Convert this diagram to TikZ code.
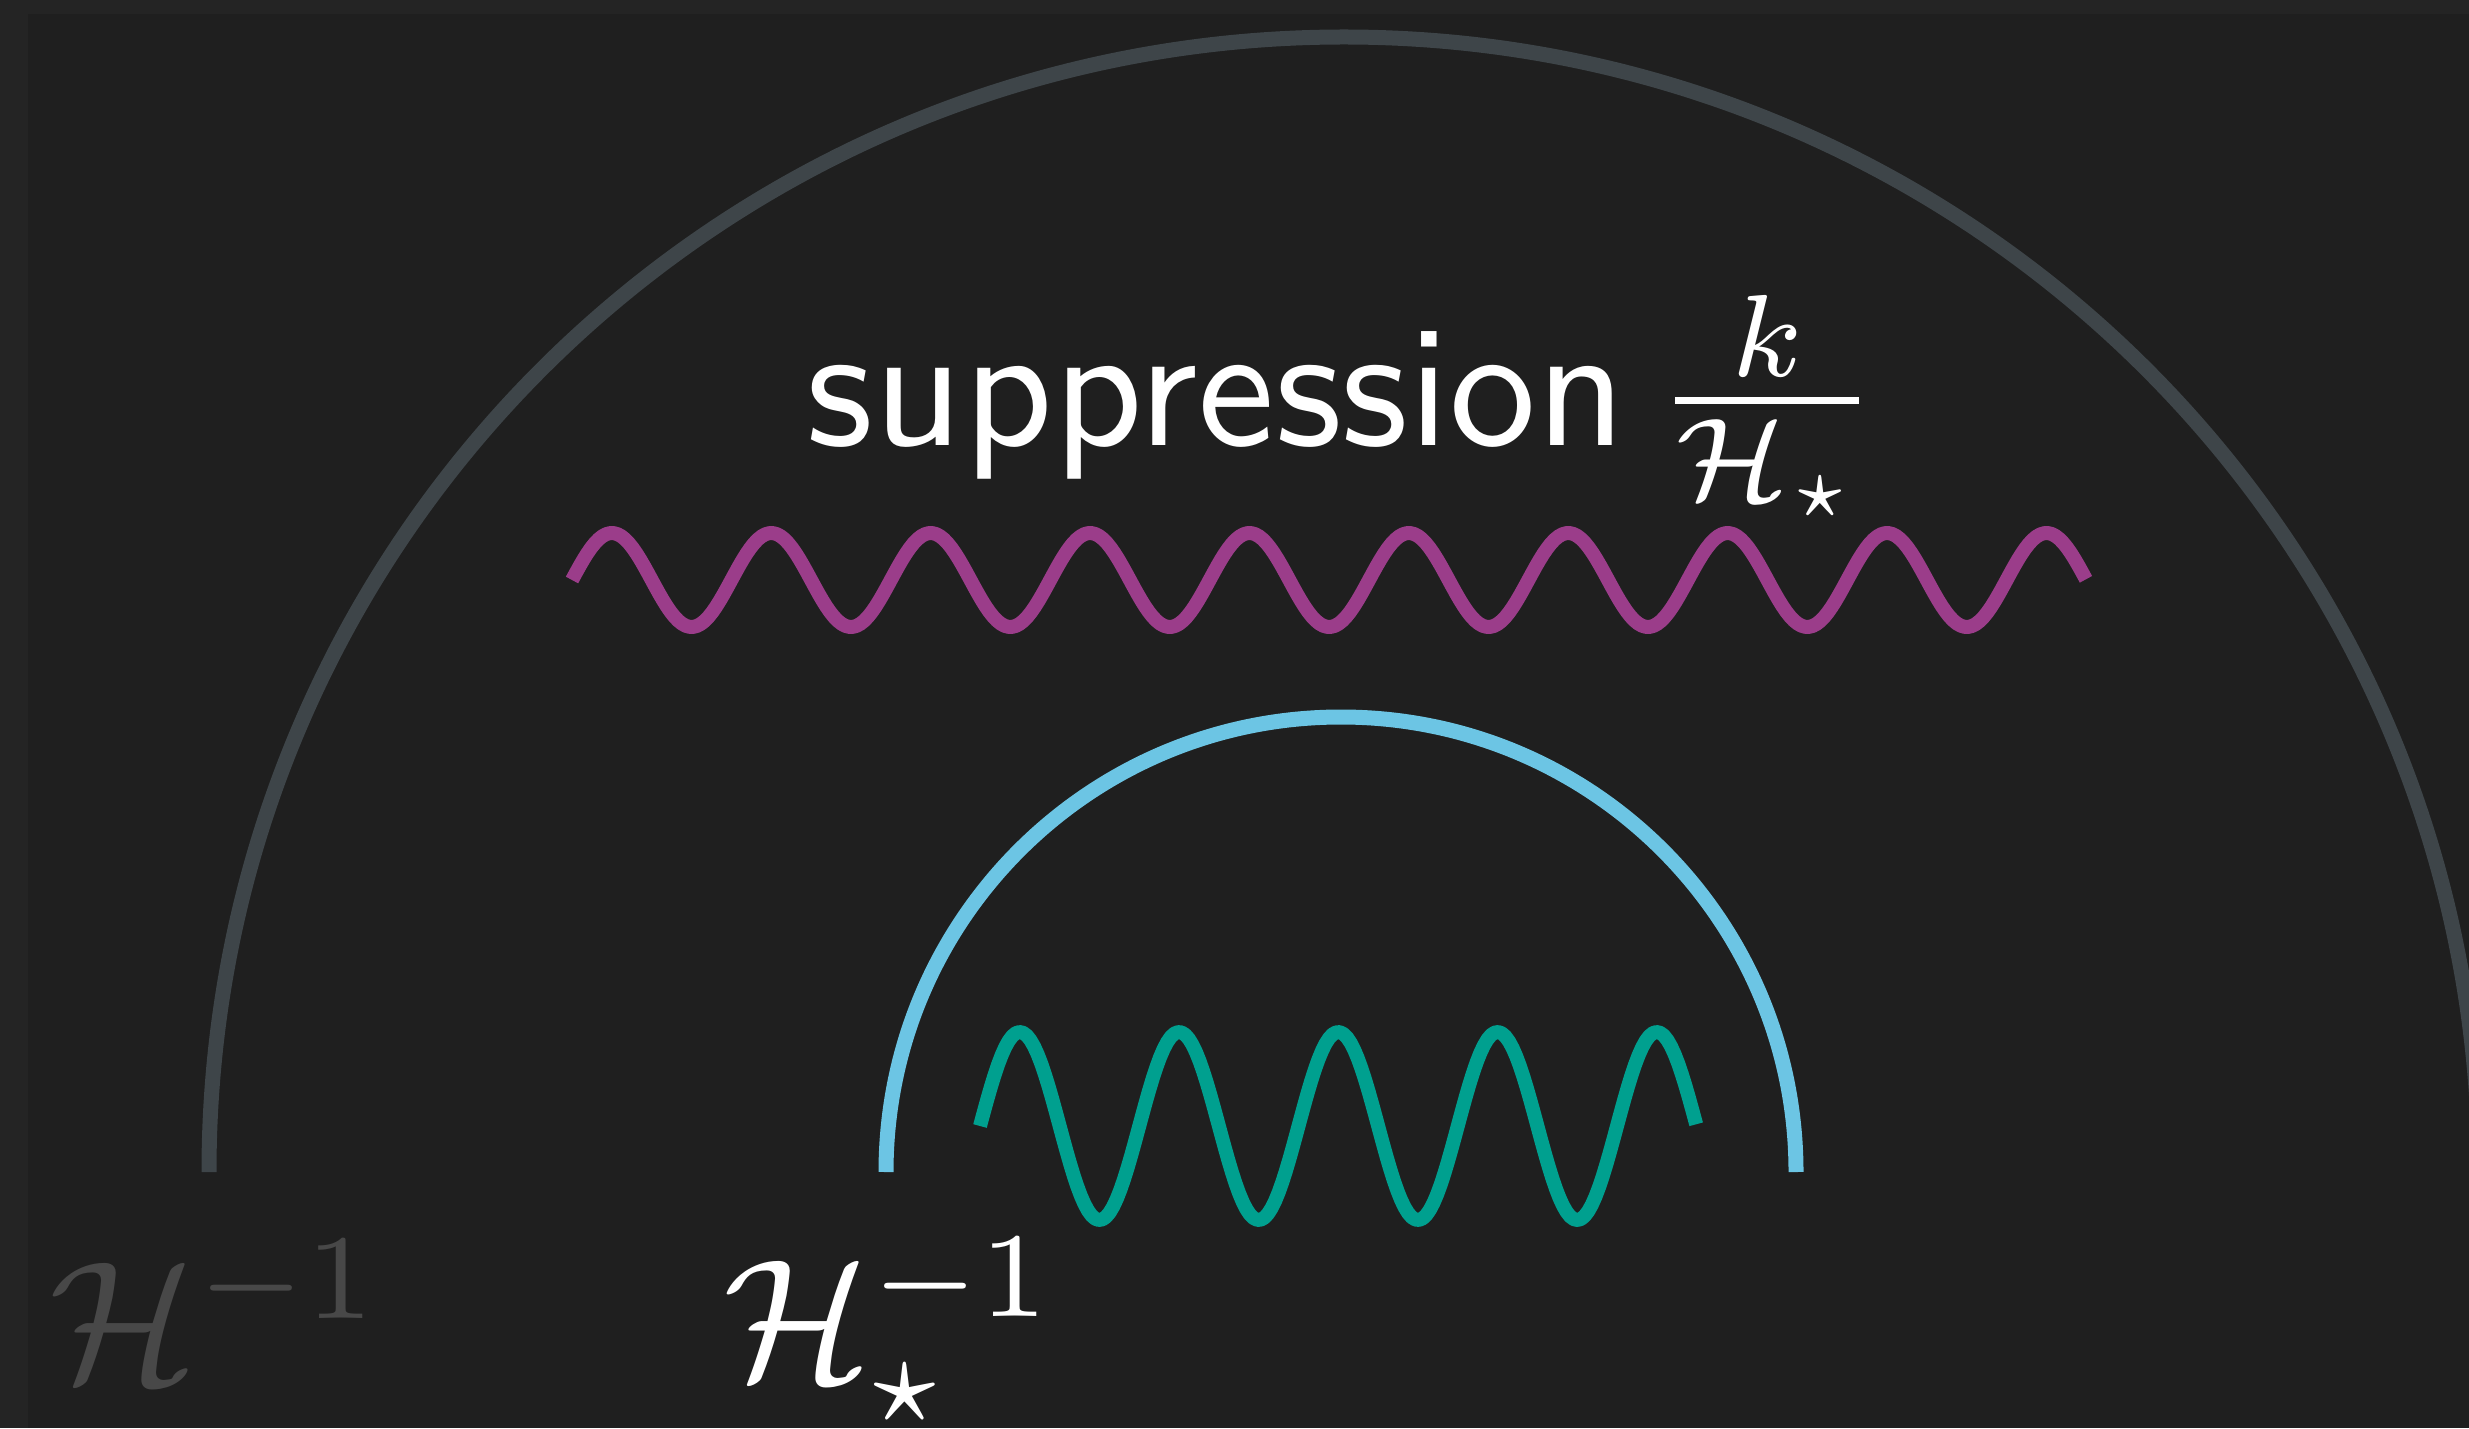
\documentclass[tikz,border=0pt]{standalone}

\definecolor{framegrey}{RGB}{36,36,36}
\definecolor{bggrey}{RGB}{31,31,31}
\definecolor{arcgrey}{RGB}{62,69,73}
\definecolor{arcblue}{RGB}{108,197,228}
\definecolor{wavepurple}{RGB}{155,61,138}
\definecolor{waveteal}{RGB}{0,160,143}
\definecolor{labelgrey}{RGB}{72,72,72}

\begin{document}
\begin{tikzpicture}[>=latex,
  horizon/.style={line width=0.15cm},
  wave/.style={line width=0.14cm,line join=round},
  label/.style={anchor=base west,inner sep=0pt,scale=4.92}]
\useasboundingbox (0,0) rectangle (24.69,14.28);
\fill[framegrey] (0,0) rectangle (24.69,14.28);
\fill[bggrey] (0.28,0) rectangle (24.69,14.14);

% horizons
\begin{scope}
\clip (0,0) rectangle (24.69,14.28);
\draw[horizon,arcgrey] (2.09,2.56) arc (180:0:11.35);
\end{scope}
\draw[horizon,arcblue] (8.86,2.56) arc (180:0:4.55);

% modes
\draw[wave,wavepurple] plot[domain=0:9.5,samples=400] ({5.72+1.594*\x},{8.48+0.47*sin(360*\x)});
\draw[wave,waveteal] plot[domain=0:4.5,samples=200] ({9.80+1.5925*\x},{3.02+0.94*sin(360*\x)});

\node[anchor=base west,inner sep=0pt,scale=4.95,text=white,font=\sffamily] (supp) at (8.03,9.82) {suppression};
\node[anchor=base,inner sep=0pt,scale=4.75,text=white] (ratio) at (17.67,9.86) {$\frac{k}{\mathcal{H}_\star}$};
\node[label,text=labelgrey] (hubble) at (0.46,0.47) {$\mathcal{H}^{-1}$};
\node[label,text=white] (hubblestar) at (7.20,0.49) {$\mathcal{H}_\star^{-1}$};
\end{tikzpicture}
\end{document}
